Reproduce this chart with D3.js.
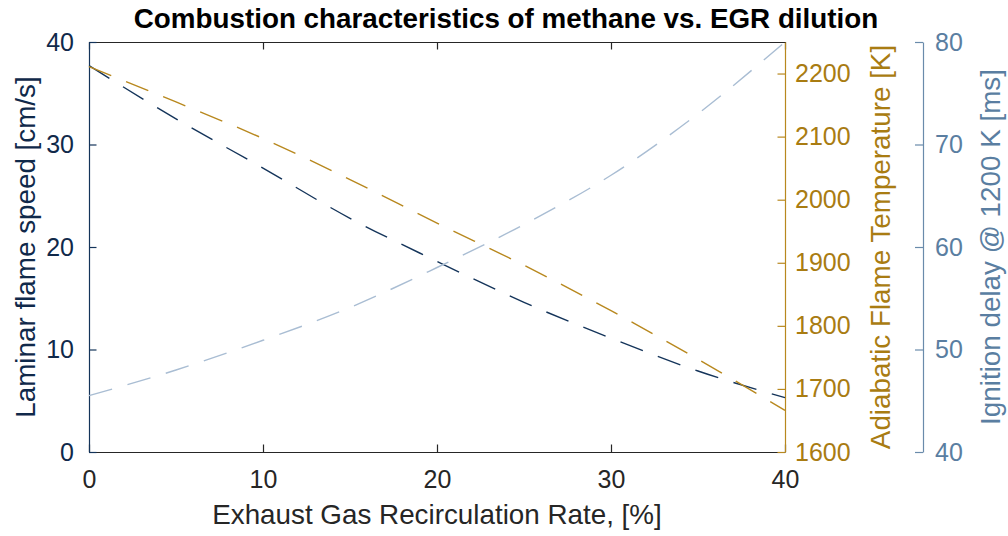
<!DOCTYPE html>
<html>
<head>
<meta charset="utf-8">
<script src="https://cdn.jsdelivr.net/npm/d3@7"></script>
<style>
  html, body { margin: 0; padding: 0; background: #fff; }
  svg { display: block; font-family: "Liberation Sans", Arial, Helvetica, sans-serif; }
</style>
</head>
<body>
<svg id="chart" width="1008" height="536"></svg>
<script>
// EGR dilution rate [%]
const egrRate = [0, 5, 10, 15, 20, 25, 30, 35, 40];
// Laminar flame speed [cm/s]
const flameSpeed = [37.7, 32.5, 27.7, 22.8, 18.6, 14.6, 11.1, 7.9, 5.3];
// Adiabatic flame temperature [K]
const flameTemp = [2211, 2155, 2097, 2032, 1963, 1896, 1824, 1747, 1666];
// Ignition delay at 1200 K [ms]
const ignitionDelay = [45.5, 48.0, 50.9, 54.1, 58.0, 62.2, 67.0, 73.0, 80.0];

const xTicks = [0, 10, 20, 30, 40];
const speedTicks = [0, 10, 20, 30, 40];
const tempTicks = [1600, 1700, 1800, 1900, 2000, 2100, 2200];
const delayTicks = [40, 50, 60, 70, 80];

const C = {
  navy: "#14345a", navyText: "#10294a",
  gold: "#b8881e", goldText: "#a97c12",
  slate: "#6a8bab", slateText: "#5a7ea1", slateLine: "#a9bdd3",
  frame: "#262626"
};

const svg = d3.select("#chart");
const L = 89, R = 785, T = 42, B = 452;
const x = d3.scaleLinear().domain([0, 40]).range([L, R]);
const ySpeed = d3.scaleLinear().domain([0, 40]).range([B, T]);
const yTemp = d3.scaleLinear().domain([1600, 2250]).range([B, T]);
const yDelay = d3.scaleLinear().domain([40, 80]).range([B, T]);

const tickFont = 25, labelFont = 27.8, tickLen = 7.5;

function styleAxis(g, color, textColor) {
  g.selectAll("path").attr("stroke", color).attr("stroke-width", 1.2);
  g.selectAll("line").attr("stroke", color).attr("stroke-width", 1.2);
  g.selectAll("text").attr("fill", textColor).attr("font-size", tickFont)
    .attr("font-family", "Liberation Sans, Arial, sans-serif");
}

// top frame with inward ticks
const gTop = svg.append("g").attr("transform", `translate(0,${T})`)
  .call(d3.axisBottom(x).tickValues(xTicks).tickSize(tickLen).tickSizeOuter(0).tickFormat(""));
styleAxis(gTop, C.frame, C.frame);

// bottom x axis
const gX = svg.append("g").attr("transform", `translate(0,${B})`)
  .call(d3.axisTop(x).tickValues(xTicks).tickSize(tickLen).tickSizeOuter(0).tickFormat(d3.format("d")));
styleAxis(gX, C.frame, C.frame);
gX.selectAll("text").attr("y", 36).attr("dy", 0).attr("fill", "#262626");

// left axis: flame speed
const gL = svg.append("g").attr("transform", `translate(${L},0)`)
  .call(d3.axisRight(ySpeed).tickValues(speedTicks).tickSize(tickLen).tickSizeOuter(0).tickFormat(d3.format("d")));
styleAxis(gL, C.navy, C.navyText);
gL.selectAll("text").attr("x", -15).attr("text-anchor", "end");

// right axis: flame temperature
const gR = svg.append("g").attr("transform", `translate(${R},0)`)
  .call(d3.axisLeft(yTemp).tickValues(tempTicks).tickSize(tickLen).tickSizeOuter(0).tickFormat(d3.format("d")));
styleAxis(gR, C.gold, C.goldText);
gR.selectAll("text").attr("x", 10).attr("text-anchor", "start");

// offset third axis: ignition delay
const R2 = 923;
const gR2 = svg.append("g").attr("transform", `translate(${R2},0)`)
  .call(d3.axisLeft(yDelay).tickValues(delayTicks).tickSize(8).tickSizeOuter(0).tickFormat(d3.format("d")));
styleAxis(gR2, C.slate, C.slateText);
gR2.selectAll("text").attr("x", 12).attr("text-anchor", "start");

// series lines
const series = [
  { values: flameSpeed, y: ySpeed, color: C.navy },
  { values: flameTemp, y: yTemp, color: C.gold },
  { values: ignitionDelay, y: yDelay, color: C.slateLine }
];
series.forEach(s => {
  const line = d3.line()
    .x((d, i) => x(egrRate[i]))
    .y(d => s.y(d))
    .curve(d3.curveMonotoneX);
  svg.append("path")
    .datum(s.values)
    .attr("d", line)
    .attr("fill", "none")
    .attr("stroke", s.color)
    .attr("stroke-width", 1.4)
    .attr("stroke-dasharray", "24,16");
});

// titles and axis labels
svg.append("text")
  .attr("x", 506).attr("y", 28)
  .attr("text-anchor", "middle")
  .attr("font-size", labelFont).attr("font-weight", "bold").attr("fill", "#000")
  .text("Combustion characteristics of methane vs. EGR dilution");

svg.append("text")
  .attr("x", (L + R) / 2).attr("y", 523.5)
  .attr("text-anchor", "middle")
  .attr("font-size", labelFont).attr("fill", "#262626")
  .text("Exhaust Gas Recirculation Rate, [%]");

function yLabel(xPos, text, color) {
  svg.append("text")
    .attr("transform", `translate(${xPos},${(T + B) / 2}) rotate(-90)`)
    .attr("text-anchor", "middle")
    .attr("font-size", labelFont).attr("fill", color)
    .text(text);
}
yLabel(35, "Laminar flame speed [cm/s]", C.navyText);
yLabel(890, "Adiabatic Flame Temperature [K]", C.goldText);
yLabel(1000, "Ignition delay @ 1200 K [ms]", C.slateText);
</script>
</body>
</html>
